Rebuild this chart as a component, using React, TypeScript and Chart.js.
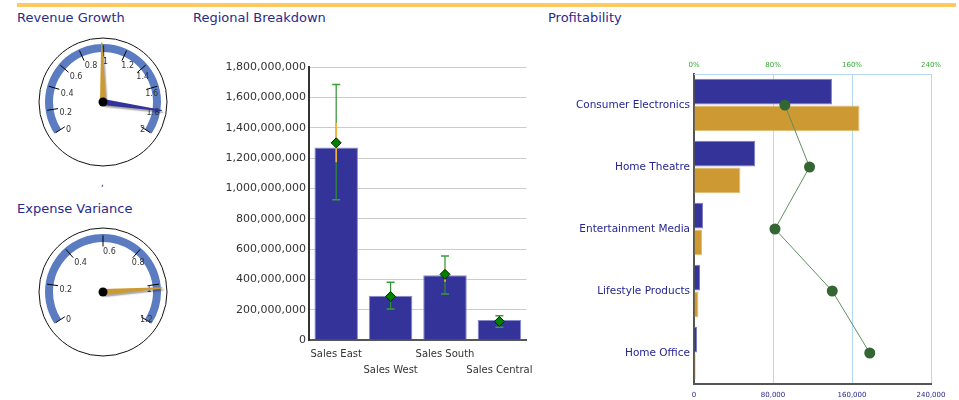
import React, { useEffect, useRef } from 'react';
import { Chart, registerables } from 'chart.js';

Chart.register(...registerables);

const FONT = "'DejaVu Sans', Verdana, sans-serif";
const TITLE_COLOR = '#2a2a8c';

// ---- Gauges ----
const REVENUE_TICKS = [0, 0.2, 0.4, 0.6, 0.8, 1, 1.2, 1.4, 1.6, 1.8, 2];
const REVENUE_NEEDLES = [0.99, 1.8];
const REVENUE_NEEDLE_COLORS = ['#cc9933', '#333399'];
const EXPENSE_TICKS = [0, 0.2, 0.4, 0.6, 0.8, 1, 1.2];
const EXPENSE_NEEDLES = [1.02];
const EXPENSE_NEEDLE_COLORS = ['#cc9933'];

// ---- Regional Breakdown ----
const REGIONS = ['Sales East', 'Sales West', 'Sales South', 'Sales Central'];
const REGION_ACTUAL = [1270000000, 292000000, 427000000, 132000000];
const REGION_TARGET = [1300000000, 287000000, 433000000, 122000000];
const REGION_HIGH = [1685000000, 381000000, 554000000, 160000000];
const REGION_LOW = [925000000, 204000000, 303000000, 84000000];
const REGION_INNER_HIGH = [1433000000, null, 473000000, null];
const REGION_INNER_LOW = [1172000000, null, 384000000, null];
const REGION_Y_TICKS = [0, 200000000, 400000000, 600000000, 800000000, 1000000000, 1200000000, 1400000000, 1600000000, 1800000000];

// ---- Profitability ----
const PRODUCTS = ['Consumer Electronics', 'Home Theatre', 'Entertainment Media', 'Lifestyle Products', 'Home Office'];
const PROFIT_REVENUE = [139700, 62000, 9200, 6100, 3100];
const PROFIT_COST = [167600, 47000, 8200, 4500, 1700];
const PROFIT_MARGIN_PCT = [92, 117, 82, 140, 178];
const PROFIT_VALUE_TICKS = [0, 80000, 160000, 240000];
const PROFIT_PCT_TICKS = [0, 80, 160, 240];

const SWEEP = 246;

function makeGaugePlugin(ticks: number[], needles: number[], colors: string[]) {
  const min = ticks[0];
  const max = ticks[ticks.length - 1];
  return {
    id: 'gaugeDial',
    beforeDatasetsDraw(chart: any) {
      const arc: any = chart.getDatasetMeta(0).data[0];
      const ctx = chart.ctx;
      ctx.save();
      ctx.beginPath();
      ctx.arc(arc.x, arc.y, arc.outerRadius + 6, 0, Math.PI * 2);
      ctx.fillStyle = '#ffffff';
      ctx.fill();
      ctx.lineWidth = 1;
      ctx.strokeStyle = '#111111';
      ctx.stroke();
      ctx.restore();
    },
    afterDatasetsDraw(chart: any) {
      const arc: any = chart.getDatasetMeta(0).data[0];
      const { x, y, startAngle, endAngle, innerRadius, outerRadius } = arc;
      const ang = (v: number) => startAngle + ((v - min) / (max - min)) * (endAngle - startAngle);
      const ctx = chart.ctx;
      ctx.save();
      ctx.strokeStyle = '#000';
      ctx.lineWidth = 1;
      ctx.font = `8px ${FONT}`;
      ctx.fillStyle = '#333';
      ctx.textAlign = 'left';
      ctx.textBaseline = 'top';
      for (const t of ticks) {
        const a = ang(t);
        const c = Math.cos(a), s = Math.sin(a);
        ctx.beginPath();
        ctx.moveTo(x + c * (innerRadius - 4.5), y + s * (innerRadius - 4.5));
        ctx.lineTo(x + c * (outerRadius - 1.5), y + s * (outerRadius - 1.5));
        ctx.stroke();
        const lr = innerRadius - 6;
        ctx.fillText(String(t), x + c * lr, y + s * lr);
      }
      needles.forEach((v, i) => {
        const a = ang(v);
        const dx = Math.cos(a), dy = Math.sin(a);
        const px = -dy, py = dx;
        const len = outerRadius + 1.5;
        const hw = 3;
        ctx.save();
        ctx.shadowColor = 'rgba(0,0,0,0.35)';
        ctx.shadowOffsetX = 1.5;
        ctx.shadowOffsetY = 2;
        ctx.shadowBlur = 1.5;
        ctx.beginPath();
        ctx.moveTo(x + px * hw, y + py * hw);
        ctx.lineTo(x + dx * len + px * 0.6, y + dy * len + py * 0.6);
        ctx.lineTo(x + dx * len - px * 0.6, y + dy * len - py * 0.6);
        ctx.lineTo(x - px * hw, y - py * hw);
        ctx.closePath();
        ctx.fillStyle = colors[i];
        ctx.fill();
        ctx.restore();
      });
      ctx.beginPath();
      ctx.arc(x, y, 4.5, 0, Math.PI * 2);
      ctx.fillStyle = '#000';
      ctx.fill();
      ctx.restore();
    },
  };
}

function gaugeConfig(ticks: number[], needles: number[], colors: string[]): any {
  const min = ticks[0];
  const max = ticks[ticks.length - 1];
  return {
    type: 'doughnut',
    data: {
      labels: ['range', 'gap'],
      datasets: [
        {
          data: [max - min, ((max - min) * (360 - SWEEP)) / SWEEP],
          backgroundColor: ['#5b7cc0', 'rgba(0,0,0,0)'],
          borderWidth: 0,
        },
      ],
    },
    options: {
      responsive: false,
      animation: false,
      events: [],
      rotation: -SWEEP / 2,
      circumference: 360,
      radius: 58,
      cutout: `${(50 / 58) * 100}%`,
      layout: { padding: 0 },
      plugins: { legend: { display: false }, tooltip: { enabled: false } },
    },
    plugins: [makeGaugePlugin(ticks, needles, colors)],
  };
}

function regionalConfig(): any {
  return {
    type: 'bar',
    data: {
      labels: REGIONS,
      datasets: [
        {
          type: 'line',
          data: REGION_TARGET,
          showLine: false,
          pointStyle: 'rectRot',
          pointRadius: 5,
          backgroundColor: '#008000',
          borderColor: '#002200',
          pointBackgroundColor: '#008000',
          pointBorderColor: '#002200',
          pointBorderWidth: 1,
          order: 0,
        },
        {
          type: 'line',
          data: REGION_HIGH,
          showLine: false,
          pointStyle: 'line',
          pointRadius: 4,
          borderColor: '#33a033',
          pointBorderColor: '#33a033',
          pointBorderWidth: 1.5,
          order: 1,
        },
        {
          type: 'line',
          data: REGION_LOW,
          showLine: false,
          pointStyle: 'line',
          pointRadius: 4,
          borderColor: '#33a033',
          pointBorderColor: '#33a033',
          pointBorderWidth: 1.5,
          order: 1,
        },
        {
          type: 'bar',
          data: REGION_INNER_LOW.map((l, i) => (l == null ? null : [l, REGION_INNER_HIGH[i]])),
          backgroundColor: '#f2b53a',
          maxBarThickness: 1.6,
          grouped: false,
          order: 2,
        },
        {
          type: 'bar',
          data: REGION_LOW.map((l, i) => [l, REGION_HIGH[i]]),
          backgroundColor: '#2f8f2f',
          maxBarThickness: 1.2,
          grouped: false,
          order: 3,
        },
        {
          type: 'bar',
          data: REGION_ACTUAL,
          backgroundColor: '#333399',
          borderColor: '#8a8ac8',
          borderWidth: 1,
          barPercentage: 0.8,
          categoryPercentage: 1,
          grouped: false,
          order: 4,
        },
      ],
    },
    options: {
      responsive: false,
      animation: false,
      events: [],
      layout: { padding: { top: 37, right: 12, left: 0, bottom: 0 } },
      plugins: { legend: { display: false }, tooltip: { enabled: false } },
      scales: {
        x: {
          grid: { display: false, drawTicks: false },
          border: { color: '#555', width: 2 },
          ticks: {
            autoSkip: false,
            maxRotation: 0,
            padding: 6,
            color: '#333',
            font: { size: 10, family: FONT, lineHeight: 1.6 },
            callback: (_v: any, i: number) => (i % 2 ? ['', REGIONS[i]] : REGIONS[i]),
          },
          afterFit: (s: any) => {
            s.height = 50;
          },
        },
        y: {
          min: REGION_Y_TICKS[0],
          max: REGION_Y_TICKS[REGION_Y_TICKS.length - 1],
          afterBuildTicks: (s: any) => {
            s.ticks = REGION_Y_TICKS.map((v) => ({ value: v }));
          },
          grid: { color: '#cccccc', drawTicks: false },
          border: { color: '#333', width: 2 },
          ticks: {
            padding: 3,
            color: '#333',
            font: { size: 11, family: FONT },
            callback: (v: any) => Number(v).toLocaleString('en-US'),
          },
          afterFit: (s: any) => {
            s.width = 119;
          },
        },
      },
    },
  };
}

function profitConfig(): any {
  return {
    type: 'bar',
    data: {
      labels: PRODUCTS,
      datasets: [
        {
          type: 'line',
          indexAxis: 'y',
          data: PROFIT_MARGIN_PCT,
          xAxisID: 'x2',
          yAxisID: 'y',
          borderColor: '#5f8f5f',
          borderWidth: 1,
          pointRadius: 5.5,
          pointBackgroundColor: '#336633',
          pointBorderColor: '#336633',
          pointBorderWidth: 0,
          order: 0,
        },
        {
          label: 'Revenue',
          data: PROFIT_REVENUE,
          backgroundColor: '#333399',
          borderColor: '#7c7cc4',
          borderWidth: 1,
          xAxisID: 'x',
          yAxisID: 'y',
          categoryPercentage: 0.86,
          barPercentage: 0.97,
          order: 1,
        },
        {
          label: 'Cost',
          data: PROFIT_COST,
          backgroundColor: '#cc9933',
          borderColor: '#e3bd6a',
          borderWidth: 1,
          xAxisID: 'x',
          yAxisID: 'y',
          categoryPercentage: 0.86,
          barPercentage: 0.97,
          order: 1,
        },
      ],
    },
    options: {
      indexAxis: 'y',
      responsive: false,
      animation: false,
      events: [],
      layout: { padding: { top: 0, right: 28, left: 0, bottom: 0 } },
      plugins: { legend: { display: false }, tooltip: { enabled: false } },
      scales: {
        y: {
          grid: { display: false, drawTicks: false },
          border: { color: '#555', width: 2 },
          ticks: { padding: 4, color: '#262691', font: { size: 10.5, family: FONT } },
          afterFit: (s: any) => {
            s.width = 154;
          },
        },
        x: {
          position: 'bottom',
          min: PROFIT_VALUE_TICKS[0],
          max: PROFIT_VALUE_TICKS[PROFIT_VALUE_TICKS.length - 1],
          afterBuildTicks: (s: any) => {
            s.ticks = PROFIT_VALUE_TICKS.map((v) => ({ value: v }));
          },
          grid: { color: '#b5d8f5', drawTicks: false },
          border: { color: '#555', width: 2 },
          ticks: {
            padding: 7,
            color: '#262691',
            font: { size: 7, family: FONT },
            callback: (v: any) => Number(v).toLocaleString('en-US'),
          },
          afterFit: (s: any) => {
            s.height = 16;
          },
        },
        x2: {
          position: 'top',
          min: PROFIT_PCT_TICKS[0],
          max: PROFIT_PCT_TICKS[PROFIT_PCT_TICKS.length - 1],
          afterBuildTicks: (s: any) => {
            s.ticks = PROFIT_PCT_TICKS.map((v) => ({ value: v }));
          },
          grid: { display: false, drawTicks: false },
          border: { color: '#b5d8f5', width: 1 },
          ticks: {
            padding: 5,
            color: '#33aa33',
            font: { size: 7, family: FONT },
            callback: (v: any) => `${v}%`,
          },
          afterFit: (s: any) => {
            s.height = 34;
          },
        },
      },
    },
  };
}

function ChartBox(props: { make: () => any; left: number; top: number; width: number; height: number }) {
  const ref = useRef<HTMLCanvasElement>(null);
  useEffect(() => {
    const chart = new Chart(ref.current as HTMLCanvasElement, props.make());
    return () => chart.destroy();
  }, []);
  return (
    <canvas
      ref={ref}
      width={props.width}
      height={props.height}
      style={{ position: 'absolute', left: props.left, top: props.top, width: props.width, height: props.height }}
    />
  );
}

const titleStyle = (left: number, top: number): React.CSSProperties => ({
  position: 'absolute',
  left,
  top,
  fontFamily: FONT,
  fontSize: 13,
  lineHeight: '15px',
  color: TITLE_COLOR,
  whiteSpace: 'nowrap',
});

export default function App() {
  return (
    <div style={{ position: 'absolute', left: 0, top: 0, width: 959, height: 400, background: '#fff', overflow: 'hidden' }}>
      <div style={{ position: 'absolute', left: 17, top: 3, width: 939, height: 4, background: '#fdca62' }} />
      <div style={titleStyle(17, 10)}>Revenue Growth</div>
      <div style={titleStyle(17, 201)}>Expense Variance</div>
      <div style={titleStyle(193, 10)}>Regional Breakdown</div>
      <div style={titleStyle(548, 10)}>Profitability</div>
      <div style={{ position: 'absolute', left: 101, top: 178, fontFamily: FONT, fontSize: 9, color: '#222' }}>,</div>
      <ChartBox make={() => gaugeConfig(REVENUE_TICKS, REVENUE_NEEDLES, REVENUE_NEEDLE_COLORS)} left={33} top={32} width={140} height={140} />
      <ChartBox make={() => gaugeConfig(EXPENSE_TICKS, EXPENSE_NEEDLES, EXPENSE_NEEDLE_COLORS)} left={33} top={222} width={140} height={140} />
      <ChartBox make={regionalConfig} left={190} top={30} width={350} height={360} />
      <ChartBox make={profitConfig} left={540} top={40} width={419} height={360} />
    </div>
  );
}
